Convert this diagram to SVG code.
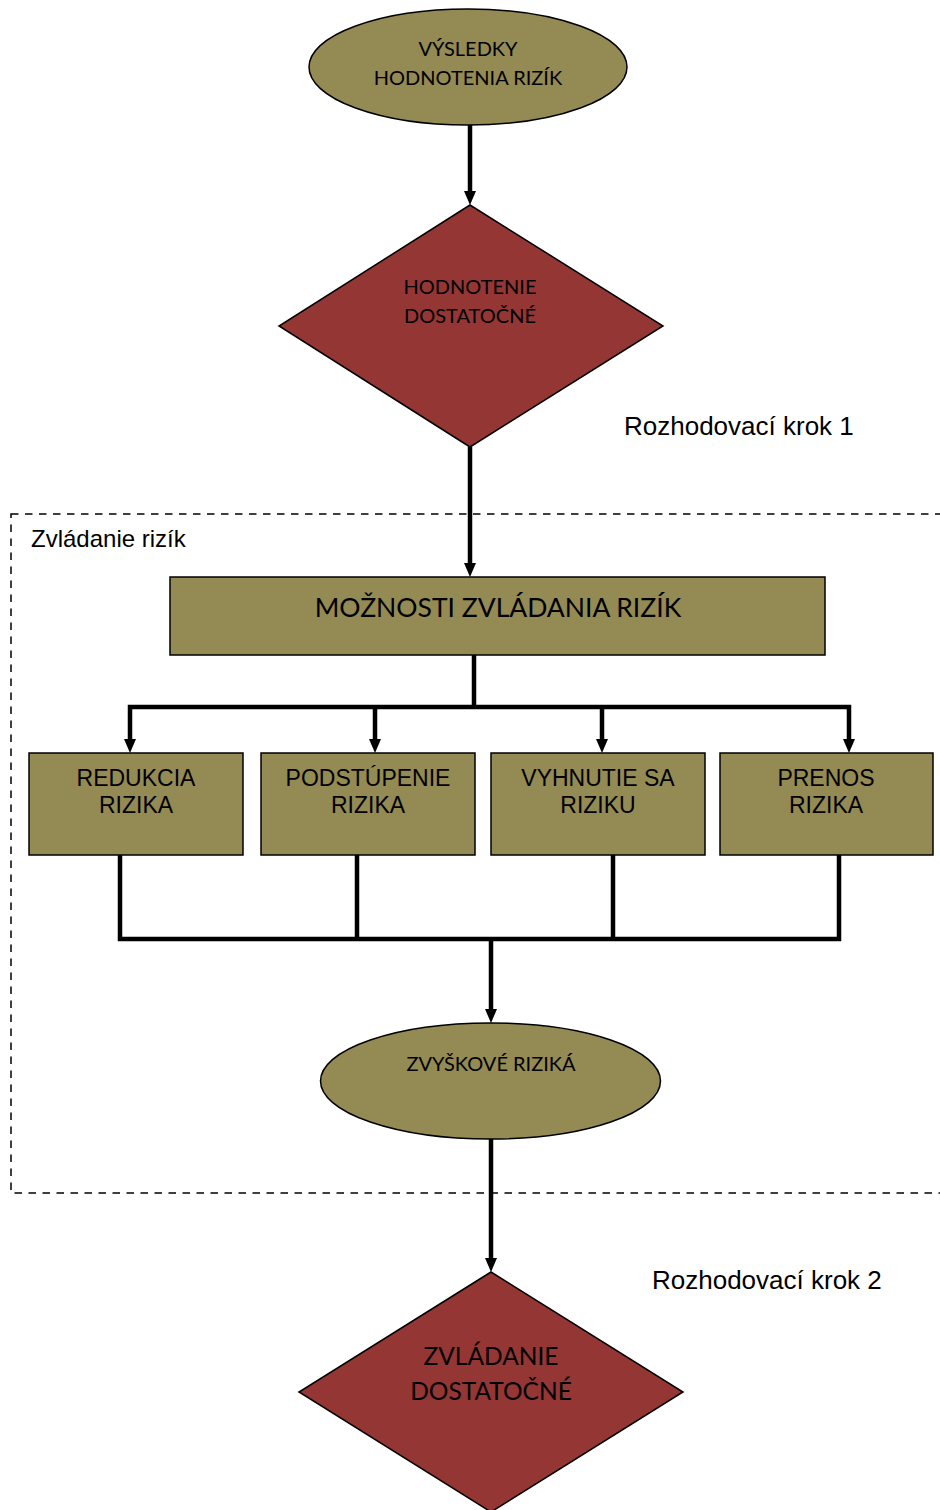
<svg xmlns="http://www.w3.org/2000/svg" width="940" height="1510" viewBox="0 0 940 1510">
<style>
.olive{fill:#948a54;stroke:#000;stroke-width:1.5}
.red{fill:#943634;stroke:#000;stroke-width:1.5}
.cal{font-family:Lato,"Open Sans","Noto Sans",sans-serif;fill:#000;text-anchor:middle}
.hel{font-family:"Liberation Sans",Arial,sans-serif;fill:#000}
.box{font-family:"Liberation Sans",Arial,sans-serif;fill:#000;text-anchor:middle;font-size:23px}
.ln{stroke:#000;stroke-width:4.5;fill:none}
</style>
<rect x="11" y="514" width="940" height="679" fill="none" stroke="#000" stroke-width="1.5" stroke-dasharray="7.5,6.5"/>
<text class="hel" x="31" y="547" font-size="24">Zvládanie rizík</text>
<text class="hel" x="624" y="435" font-size="26">Rozhodovací krok 1</text>
<text class="hel" x="652" y="1289" font-size="26">Rozhodovací krok 2</text>
<g id="connectors">
<path class="ln" d="M470,125 V191"/>
<path d="M464,191 L476,191 L470,205 Z"/>
<path class="ln" d="M470,447 V563"/>
<path d="M464,563 L476,563 L470,577 Z"/>
<path class="ln" d="M474,655 V707"/>
<path class="ln" d="M130,739 V707 H849 V739"/>
<path class="ln" d="M375,707 V739"/>
<path class="ln" d="M602,707 V739"/>
<path d="M124,739 L136,739 L130,753 Z"/>
<path d="M369,739 L381,739 L375,753 Z"/>
<path d="M596,739 L608,739 L602,753 Z"/>
<path d="M843,739 L855,739 L849,753 Z"/>
<path class="ln" d="M120,855 V939 H839 V855"/>
<path class="ln" d="M357,855 V939"/>
<path class="ln" d="M613,855 V939"/>
<path class="ln" d="M491,939 V1009"/>
<path d="M485,1009 L497,1009 L491,1023 Z"/>
<path class="ln" d="M491,1139 V1258"/>
<path d="M485,1258 L497,1258 L491,1272 Z"/>
</g>
<g id="vysledky">
<ellipse class="olive" cx="468" cy="67" rx="159" ry="58"/>
<text class="cal" x="468" y="56" font-size="20">VÝSLEDKY</text>
<text class="cal" x="468" y="85" font-size="20">HODNOTENIA RIZÍK</text>
</g>
<g id="hodnotenie">
<polygon class="red" points="470,205 663,326 470,447 279,326"/>
<text class="cal" x="470" y="294" font-size="20">HODNOTENIE</text>
<text class="cal" x="470" y="323" font-size="20">DOSTATOČNÉ</text>
</g>
<g id="moznosti">
<rect class="olive" x="170" y="577" width="655" height="78"/>
<text class="cal" x="498" y="617" font-size="26.5">MOŽNOSTI ZVLÁDANIA RIZÍK</text>
</g>
<g id="redukcia">
<rect class="olive" x="29" y="753" width="214" height="102"/>
<text class="box" x="136" y="786">REDUKCIA</text>
<text class="box" x="136" y="813">RIZIKA</text>
</g>
<g id="podstupenie">
<rect class="olive" x="261" y="753" width="214" height="102"/>
<text class="box" x="368" y="786">PODSTÚPENIE</text>
<text class="box" x="368" y="813">RIZIKA</text>
</g>
<g id="vyhnutie">
<rect class="olive" x="491" y="753" width="214" height="102"/>
<text class="box" x="598" y="786">VYHNUTIE SA</text>
<text class="box" x="598" y="813">RIZIKU</text>
</g>
<g id="prenos">
<rect class="olive" x="720" y="753" width="213" height="102"/>
<text class="box" x="826" y="786">PRENOS</text>
<text class="box" x="826" y="813">RIZIKA</text>
</g>
<g id="zvyskove">
<ellipse class="olive" cx="490.5" cy="1081" rx="170" ry="58"/>
<text class="cal" x="491" y="1071" font-size="20">ZVYŠKOVÉ RIZIKÁ</text>
</g>
<g id="zvladanie">
<polygon class="red" points="491,1272 683,1392 491,1512 299,1392"/>
<text class="cal" x="491" y="1365" font-size="24.5">ZVLÁDANIE</text>
<text class="cal" x="491" y="1400" font-size="24.5">DOSTATOČNÉ</text>
</g>
</svg>
